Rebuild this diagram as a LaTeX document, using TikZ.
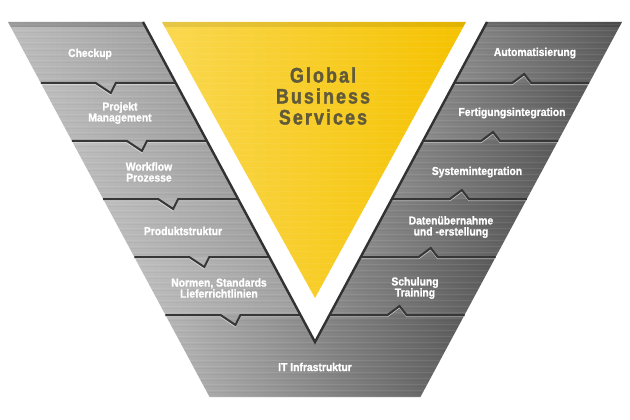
\documentclass[tikz,border=0pt]{standalone}
\usepackage{fontspec}
\setmainfont{Liberation Sans}
\newfontfamily\panelfont{Liberation Sans}[FakeStretch=0.9,FakeBold=1.2]
\newfontfamily\gbsfont{Liberation Sans}[FakeStretch=0.85,LetterSpace=10,FakeBold=1.6]
\definecolor{lgA}{RGB}{190,190,190}
\definecolor{lgB}{RGB}{232,232,232}
\definecolor{lgC}{RGB}{160,160,160}
\definecolor{rgA}{RGB}{140,140,140}
\definecolor{rgB}{RGB}{188,188,188}
\definecolor{rgC}{RGB}{90,90,90}
\definecolor{bgA}{RGB}{182,182,182}
\definecolor{bgB}{RGB}{145,145,145}
\definecolor{bgC}{RGB}{92,92,92}
\definecolor{yelL}{RGB}{250,216,80}
\definecolor{yelM}{RGB}{247,198,0}
\definecolor{yelR}{RGB}{245,194,0}
\definecolor{gbstext}{RGB}{96,90,58}
\definecolor{sepdark}{RGB}{55,55,55}
\definecolor{edgedark}{RGB}{50,50,50}
\begin{document}
\begin{tikzpicture}[x=1pt,y=-1pt,line join=miter,
  lab/.style={font=\panelfont\bfseries\fontsize{11.5}{11}\selectfont, text=white, align=center, inner sep=0pt},
  gbs/.style={font=\gbsfont\bfseries\fontsize{21}{21}\selectfont, text=gbstext, align=center, inner sep=0pt},
  sepline/.style={draw=sepdark, line width=2pt},
  seplight/.style={draw=white, opacity=0.55, line width=0.8pt},
  inneredge/.style={draw=edgedark, line width=2.4pt},
  bevel/.style={fill=black, opacity=0.18}]
\useasboundingbox[fill=white] (0,0) rectangle (630,420);
\def\s{0.5375}
% left panels
\foreach \ya/\yb in {22/83,83/141,141/199,199/257,257/315}{
  \shade[left color=lgA, middle color=lgB, right color=lgC]
    ({8+\s*(\ya-22)},\ya) -- ({143+\s*(\ya-22)},\ya) -- ({143+\s*(\yb-22)},\yb) -- ({8+\s*(\yb-22)},\yb) -- cycle;
}
% right panels
\foreach \ya/\yb in {22/83,83/141,141/199,199/257,257/315}{
  \shade[left color=rgA, middle color=rgB, right color=rgC]
    ({487-\s*(\ya-22)},\ya) -- ({622-\s*(\ya-22)},\ya) -- ({622-\s*(\yb-22)},\yb) -- ({487-\s*(\yb-22)},\yb) -- cycle;
}
% bottom panel
\shade[left color=bgA, middle color=bgB, right color=bgC]
  ({8+\s*293},315) -- ({143+\s*293},315) -- (315,342) -- ({487-\s*293},315) -- ({622-\s*293},315)
  -- ({622-\s*375},397) -- ({8+\s*375},397) -- cycle;
% brushed texture
\begin{scope}
  \clip (8,22) -- (143,22) -- (315,342) -- (487,22) -- (622,22) -- ({622-\s*375},397) -- ({8+\s*375},397) -- cycle;
  \foreach \k in {0,...,62}{
    \draw[white, opacity=0.08, line width=0.6pt] (0,{24+6*\k}) -- (630,{24+6*\k});
    \draw[black, opacity=0.03, line width=0.6pt] (0,{26.5+6*\k}) -- (630,{26.5+6*\k});
  }
\end{scope}
% top bevels
\fill[bevel] (8,22) -- (143,22) -- ({143+\s*5},27) -- ({8+\s*5},27) -- cycle;
\fill[bevel] (487,22) -- (622,22) -- ({622-\s*5},27) -- ({487-\s*5},27) -- cycle;
% left separators
\foreach \y in {83,141,199,257,315}{
  \pgfmathsetmacro\lo{8+\s*(\y-22)}
  \pgfmathsetmacro\li{143+\s*(\y-22)}
  \draw[seplight] (\lo,\y+1.8) -- (\lo+55,\y+1.8) -- (\lo+70,\y+11.8) -- (\lo+75,\y+1.8) -- (\li,\y+1.8);
  \draw[sepline] (\lo,\y) -- (\lo+55,\y) -- (\lo+70,\y+10) -- (\lo+75,\y) -- (\li,\y);
}
% right separators
\foreach \y in {83,141,199,257,315}{
  \pgfmathsetmacro\ri{487-\s*(\y-22)}
  \pgfmathsetmacro\ro{622-\s*(\y-22)}
  \draw[seplight] (\ri,\y+1.8) -- (\ri+58,\y+1.8) -- (\ri+70,\y-7.2) -- (\ri+77,\y+1.8) -- (\ro,\y+1.8);
  \draw[sepline] (\ri,\y) -- (\ri+58,\y) -- (\ri+70,\y-9) -- (\ri+77,\y) -- (\ro,\y);
}
% inner edges of the V
\draw[inneredge] (143,22) -- (315,342) -- (487,22);
% yellow triangle
\shade[left color=yelL, middle color=yelM, right color=yelR] (162,22) -- (466,22) -- (315,298) -- cycle;
\begin{scope}
  \clip (162,22) -- (466,22) -- (315,298) -- cycle;
  \fill[black, opacity=0.08] (150,22) rectangle (480,27);
  \foreach \k in {0,...,45}{
    \draw[white, opacity=0.06, line width=0.6pt] (150,{29+6*\k}) -- (480,{29+6*\k});
  }
\end{scope}
% texts
\node[gbs] (gbs) at (323,96) {Global\\Business\\Services};
\node[lab] (checkup) at (90,54) {Checkup};
\node[lab] (projekt) at (120,113) {Projekt\\Management};
\node[lab] (workflow) at (149,172) {Workflow\\Prozesse};
\node[lab] (produkt) at (183,231) {Produktstruktur};
\node[lab] (normen) at (219,288) {Normen, Standards\\Lieferrichtlinien};
\node[lab] (it) at (315,367) {IT Infrastruktur};
\node[lab] (auto) at (535,53) {Automatisierung};
\node[lab] (fert) at (512,113) {Fertigungsintegration};
\node[lab] (system) at (477,172) {Systemintegration};
\node[lab] (daten) at (451,227) {Datenübernahme\\und -erstellung};
\node[lab] (schulung) at (415,288) {Schulung\\Training};
\end{tikzpicture}
\end{document}
